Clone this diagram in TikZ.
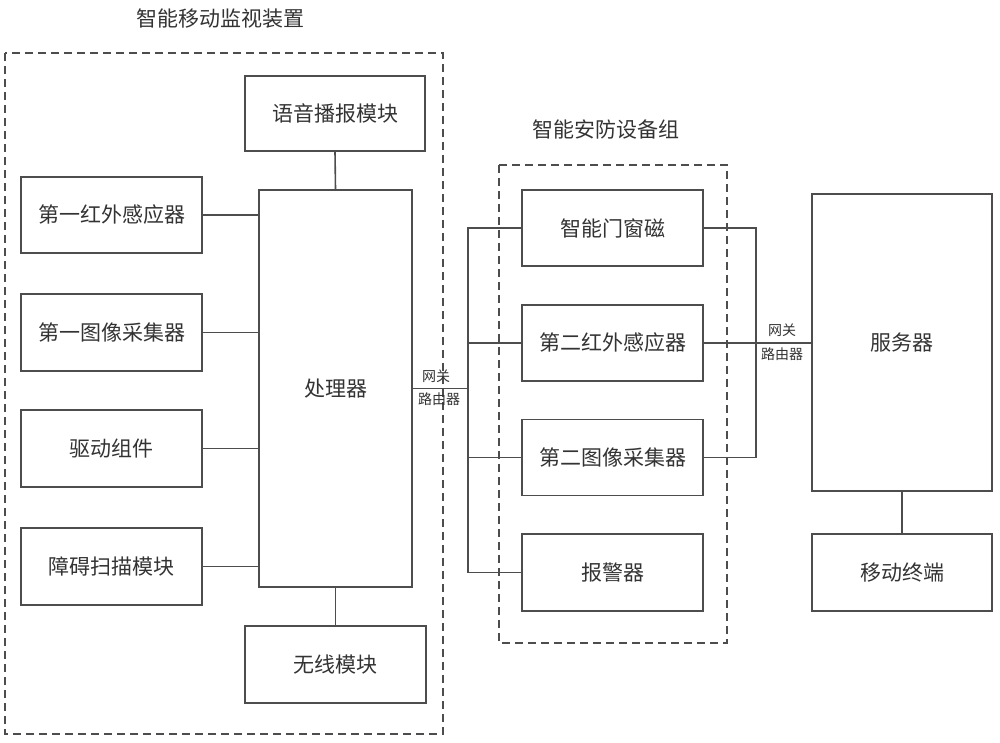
\documentclass[tikz,border=0pt]{standalone}
\usepackage{fontspec}
\setmainfont{Noto Sans CJK SC}
\begin{document}
\begin{tikzpicture}[x=1pt,y=-1pt,
  line/.style={draw=linec, line width=1.6pt},
  box/.style={line, rectangle, inner sep=0pt, text=textc, font=\fontsize{21}{21}\selectfont},
  grp/.style={draw=linec, line width=1.4pt, dash pattern=on 8pt off 5pt},
  gw/.style={text=textc, font=\fontsize{14}{14}\selectfont, inner sep=0pt},
  ttl/.style={text=textc, font=\fontsize{21}{21}\selectfont, inner sep=0pt}]
\definecolor{linec}{HTML}{4D4D4D}
\definecolor{textc}{HTML}{333333}
\useasboundingbox (0,0) rectangle (1000,742);
% groups
\draw[grp] (5,53) rectangle (443,734);
\draw[grp] (499,165) rectangle (727,643);
\node[ttl] (t1) at (220,19) {智能移动监视装置};
\node[ttl] (t2) at (606,130) {智能安防设备组};
% device boxes
\node[box, minimum width=180pt, minimum height=75pt] (voice) at (335,113.5) {语音播报模块};
\node[box, minimum width=153pt, minimum height=397pt] (proc) at (335.5,388.5) {处理器};
\node[box, minimum width=181pt, minimum height=77pt] (wl) at (335.5,664.5) {无线模块};
\node[box, minimum width=181pt, minimum height=76pt] (L1) at (111.5,215) {第一红外感应器};
\node[box, minimum width=181pt, minimum height=77pt] (L2) at (111.5,332.5) {第一图像采集器};
\node[box, minimum width=181pt, minimum height=77pt] (L3) at (111.5,448.5) {驱动组件};
\node[box, minimum width=181pt, minimum height=77pt] (L4) at (111.5,566.5) {障碍扫描模块};
% security boxes
\node[box, minimum width=181pt, minimum height=76pt] (S1) at (612.5,228) {智能门窗磁};
\node[box, minimum width=181pt, minimum height=76pt] (S2) at (612.5,343) {第二红外感应器};
\node[box, minimum width=181pt, minimum height=76pt] (S3) at (612.5,457.5) {第二图像采集器};
\node[box, minimum width=181pt, minimum height=77pt] (S4) at (612.5,572.5) {报警器};
% server side
\node[box, minimum width=180pt, minimum height=297pt] (srv) at (902,342.5) {服务器};
\node[box, minimum width=180pt, minimum height=77pt] (mob) at (902,572.5) {移动终端};
% connectors
\coordinate (bus) at (468,0);
\coordinate (rb) at (756,0);
\draw[line] (voice.south) -- (proc.north);
\draw[line] (proc.south) -- (wl.north);
\foreach \n in {L1,L2,L3,L4} \draw[line] (\n.east) -- (\n.east -| proc.west);
\draw[line] (proc.east) -- (proc.east -| bus);
\draw[line] (S1.west) -- (S1.west -| bus) -- (S4.west -| bus) -- (S4.west);
\draw[line] (S2.west) -- (S2.west -| bus);
\draw[line] (S3.west) -- (S3.west -| bus);
\draw[line] (S1.east) -- (S1.east -| rb) -- (S3.east -| rb) -- (S3.east);
\draw[line] (S2.east) -- (S2.east -| srv.west);
\draw[line] (srv.south) -- (mob.north);
% gateway labels
\node[gw] (g1a) at (436,376) {网关};
\node[gw] (g1b) at (439,399) {路由器};
\node[gw] (g2a) at (782,330) {网关};
\node[gw] (g2b) at (782,354) {路由器};
\end{tikzpicture}
\end{document}
